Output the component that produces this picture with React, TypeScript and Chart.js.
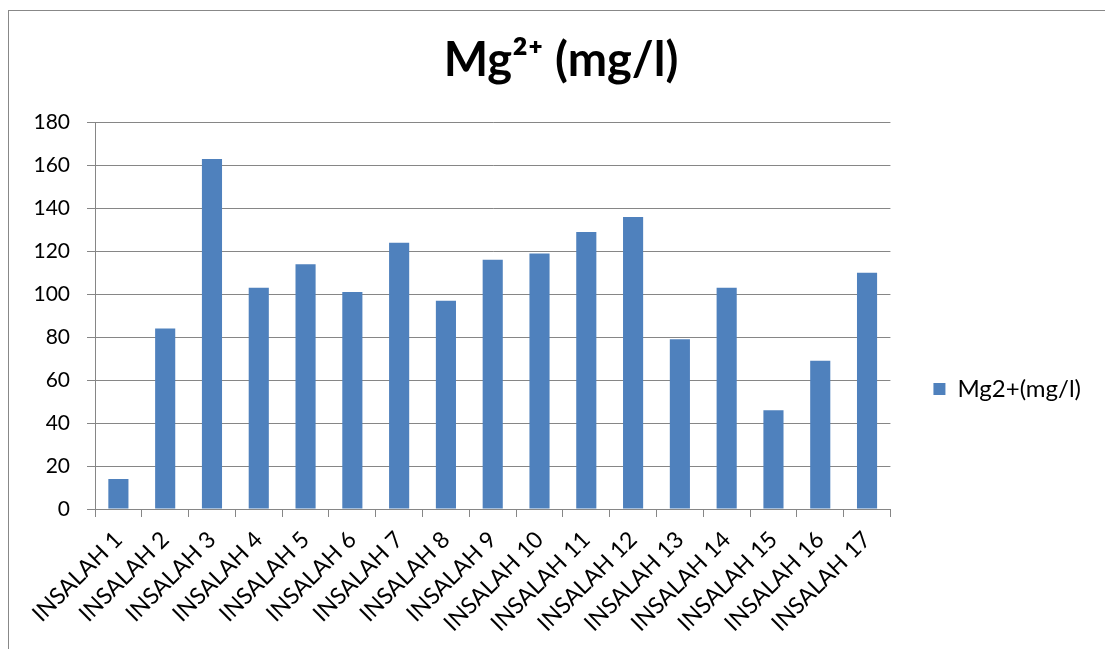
import React, { useEffect, useRef } from "react";
import { Chart, registerables } from "chart.js";

Chart.register(...registerables);

const categories = [
  "INSALAH 1", "INSALAH 2", "INSALAH 3", "INSALAH 4", "INSALAH 5", "INSALAH 6",
  "INSALAH 7", "INSALAH 8", "INSALAH 9", "INSALAH 10", "INSALAH 11", "INSALAH 12",
  "INSALAH 13", "INSALAH 14", "INSALAH 15", "INSALAH 16", "INSALAH 17",
];
const mgValues = [14, 84, 163, 103, 114, 101, 124, 97, 116, 119, 129, 136, 79, 103, 46, 69, 110];
const seriesLabel = "Mg2+(mg/l)";
const titleText = "Mg²⁺ (mg/l)";

const FONT = "Lato, 'Open Sans', sans-serif";
const GRID = "#868686";

const legendShift = {
  id: "legendShift",
  afterLayout(chart: any) {
    const lg = chart.legend;
    if (!lg) return;
    lg.top += 59;
    lg.bottom += 59;
  },
};

export default function App() {
  const ref = useRef<HTMLCanvasElement | null>(null);
  useEffect(() => {
    if (!ref.current) return;
    const chart = new Chart(ref.current, {
      type: "bar",
      data: {
        labels: categories,
        datasets: [
          {
            label: seriesLabel,
            data: mgValues,
            backgroundColor: "#4F81BD",
            borderWidth: 0,
            categoryPercentage: 1,
            barPercentage: 0.43,
          },
        ],
      },
      plugins: [legendShift],
      options: {
        animation: false,
        responsive: false,
        maintainAspectRatio: false,
        layout: { padding: { left: 22, right: 14, top: 0, bottom: 0 } },
        plugins: {
          title: {
            display: true,
            text: titleText,
            color: "#000",
            font: { family: FONT, size: 47, weight: "bold" },
            padding: { top: 22, bottom: 33 },
          },
          legend: {
            display: true,
            position: "right",
            labels: {
              color: "#000",
              font: { family: FONT, size: 24 },
              boxWidth: 12,
              boxHeight: 12,
              padding: 10,
            },
          },
          tooltip: { enabled: false },
        },
        scales: {
          x: {
            offset: true,
            grid: {
              offset: true,
              drawOnChartArea: false,
              drawTicks: true,
              tickLength: 8,
              color: GRID,
            },
            border: { color: GRID },
            ticks: {
              color: "#000",
              font: { family: FONT, size: 23 },
              maxRotation: 45,
              minRotation: 45,
              autoSkip: false,
              padding: 9,
            },
            afterFit: (s: any) => {
              s.height = 140;
            },
          },
          y: {
            min: 0,
            max: 180,
            grid: { color: GRID, tickLength: 8 },
            border: { color: GRID },
            ticks: {
              stepSize: 20,
              color: "#000",
              font: { family: FONT, size: 21 },
              padding: 17,
            },
            afterFit: (s: any) => {
              s.width = 64;
            },
          },
          gap: {
            type: "linear",
            position: "right",
            display: true,
            grid: { display: false, drawTicks: false },
            border: { display: false },
            ticks: { display: false },
            afterFit: (s: any) => {
              s.width = 33;
            },
          },
        },
      },
    });
    return () => chart.destroy();
  }, []);
  return (
    <div
      style={{
        position: "absolute",
        left: 8,
        top: 10,
        width: 1097,
        height: 639,
        borderTop: "1px solid #888",
        borderLeft: "1px solid #888",
        boxSizing: "border-box",
        background: "#fff",
        overflow: "hidden",
      }}
    >
      <canvas ref={ref} width={1096} height={638} style={{ display: "block" }} />
    </div>
  );
}
